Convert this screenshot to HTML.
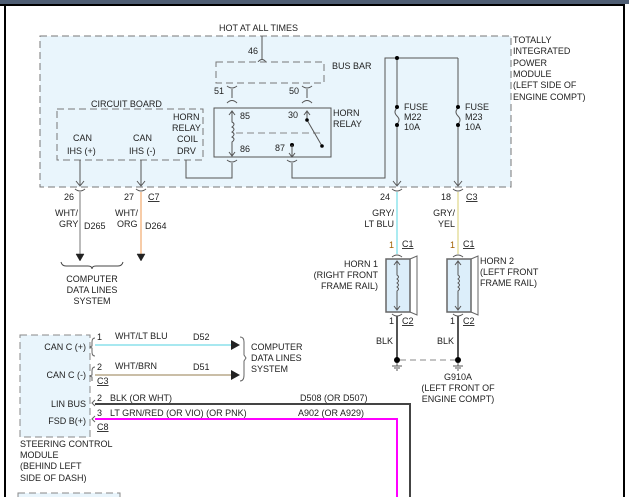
<!DOCTYPE html>
<html><head><style>
body{margin:0;width:629px;height:497px;overflow:hidden;background:#fff}
svg{display:block}
text{font-family:"Liberation Sans",Arial,sans-serif;font-size:9px;fill:#222}
</style></head><body>
<svg width="629" height="497" viewBox="0 0 629 497">
<rect x="0" y="0" width="629" height="4" fill="#4e5d73"/>
<line x1="0" y1="5" x2="625" y2="5" stroke="#000" stroke-width="2"/>
<line x1="5" y1="5" x2="5" y2="497" stroke="#000" stroke-width="2"/>
<line x1="624" y1="5" x2="624" y2="497" stroke="#000" stroke-width="2"/>

<!-- TIPM -->
<rect x="40" y="36" width="471" height="151" fill="#e9f5fc" stroke="#777" stroke-dasharray="7,4"/>
<text x="219" y="31">HOT AT ALL TIMES</text>
<line x1="262" y1="36" x2="262" y2="60" stroke="#555"/>
<path d="M258,62 Q262,57 266,62" fill="none" stroke="#555"/>
<text x="248" y="54">46</text>
<rect x="216" y="62" width="108" height="21" fill="#e9f5fc" stroke="#777" stroke-dasharray="7,4"/>
<text x="332" y="69">BUS BAR</text>
<text x="214" y="94">51</text><text x="289" y="94">50</text>
<g fill="none" stroke="#555">
<path d="M227,86 Q232,90 237,86 M232,89 L232,98 M227,103 Q232,98 237,103"/>
<path d="M302,86 Q307,90 312,86 M307,89 L307,98 M302,103 Q307,98 312,103"/>
</g>
<text x="91" y="107">CIRCUIT BOARD</text>
<rect x="57" y="109" width="146" height="51" fill="#e9f5fc" stroke="#777" stroke-dasharray="7,4"/>
<text x="73" y="141">CAN</text><text x="67" y="154">IHS (+)</text>
<text x="133" y="141">CAN</text><text x="129" y="154">IHS (-)</text>
<text x="173" y="120">HORN</text><text x="172" y="131">RELAY</text><text x="177" y="142">COIL</text><text x="177" y="154">DRV</text>
<rect x="214" y="108" width="117" height="49" fill="#e9f5fc" stroke="#555"/>
<text x="333" y="116">HORN</text><text x="333" y="127">RELAY</text>
<text x="240" y="119">85</text><text x="288" y="118">30</text>
<text x="240" y="152">86</text><text x="275" y="151">87</text>
<line x1="236" y1="133" x2="320" y2="133" stroke="#888" stroke-dasharray="7,4"/>
<path d="M232,112 L232,122 q4,2 0,5 q4,2 0,5 q4,2 0,5 q4,2 0,5 L232,155 M229,115 L232,111 L235,115 M229,152 L232,156 L235,152" fill="none" stroke="#555"/>
<path d="M307,112 L307,120 L322,146 M304,115 L307,111 L310,115" fill="none" stroke="#555"/>
<circle cx="307" cy="120" r="1.8"/><circle cx="322" cy="146" r="1.8"/>
<circle cx="292" cy="145" r="2"/><path d="M292,145 L292,156 M289,153 L292,157 L295,153" stroke="#555" fill="none"/>
<g fill="none" stroke="#555">
<path d="M227,160 Q232,164 237,160"/>
<path d="M287,160 Q292,164 297,160"/>
<path d="M232,163 L232,178 L186,178 L186,160"/>
<path d="M292,163 L292,178 L385,178 L385,58 L458,58"/>
<path d="M397,58 L397,106 M397,126 L397,185 M458,58 L458,106 M458,126 L458,185"/>
<path d="M397,108 q-4,4 0,8 q4,4 0,8 M458,108 q-4,4 0,8 q4,4 0,8"/>
<path d="M393,181 L397,186 L401,181 M454,181 L458,186 L462,181"/>
<path d="M80,160 L80,185 M141,160 L141,185 M76,181 L80,186 L84,181 M137,181 L141,186 L145,181"/>
<path d="M75,189 Q80,193 85,189 M136,189 Q141,193 146,189 M392,189 Q397,193 402,189 M453,189 Q458,193 463,189"/>
</g>
<circle cx="397" cy="58" r="2"/>
<circle cx="397" cy="107" r="2"/><circle cx="397" cy="125" r="2"/>
<circle cx="458" cy="107" r="2"/><circle cx="458" cy="125" r="2"/>
<text x="404" y="110">FUSE</text><text x="404" y="120">M22</text><text x="404" y="130">10A</text>
<text x="465" y="110">FUSE</text><text x="465" y="120">M23</text><text x="465" y="130">10A</text>
<text x="513" y="43">TOTALLY</text><text x="513" y="54">INTEGRATED</text><text x="513" y="66">POWER</text><text x="513" y="77">MODULE</text><text x="513" y="88">(LEFT SIDE OF</text><text x="513" y="100">ENGINE COMPT)</text>

<!-- CAN IHS wires -->
<text x="64" y="200">26</text><text x="124" y="200">27</text><text x="148" y="200" text-decoration="underline">C7</text>
<rect x="79" y="192" width="2" height="63" fill="#bbbbbb"/>
<rect x="140" y="192" width="2" height="63" fill="#f7cca8"/>
<text x="55" y="216">WHT/</text><text x="59" y="227">GRY</text><text x="84" y="229">D265</text>
<text x="115" y="216">WHT/</text><text x="117" y="227">ORG</text><text x="145" y="229">D264</text>
<path d="M76,254 L84,254 L80,261 Z" fill="#222" stroke="#222" stroke-width="0.5"/>
<path d="M137,254 L145,254 L141,261 Z" fill="#222" stroke="#222" stroke-width="0.5"/>
<path d="M61,262 Q62,266 66,266 L88,266 Q92,266 92,269 Q92,266 96,266 L118,266 Q122,266 123,262" fill="none" stroke="#444" stroke-width="1"/>
<text x="92" y="282" text-anchor="middle">COMPUTER</text><text x="92" y="293" text-anchor="middle">DATA LINES</text><text x="92" y="304" text-anchor="middle">SYSTEM</text>

<!-- fuse wires -->
<text x="380" y="200">24</text><text x="441" y="200">18</text><text x="466" y="200" text-decoration="underline">C3</text>
<line x1="397" y1="192" x2="397" y2="254" stroke="#8fe4ec" stroke-width="1.5"/>
<line x1="458" y1="192" x2="458" y2="254" stroke="#e6dfa0" stroke-width="1.5"/>
<text x="394" y="216" text-anchor="end">GRY/</text><text x="394" y="227" text-anchor="end">LT BLU</text>
<text x="455" y="216" text-anchor="end">GRY/</text><text x="455" y="227" text-anchor="end">YEL</text>
<text x="389" y="248" style="fill:#a06000">1</text><text x="402" y="247" text-decoration="underline">C1</text>
<text x="450" y="248" style="fill:#a06000">1</text><text x="463" y="247" text-decoration="underline">C1</text>
<!-- horns -->
<g fill="none" stroke="#555">
<path d="M392,257 Q397,253 402,257 M453,257 Q458,253 463,257"/>
<rect x="386" y="259" width="24" height="53" fill="#dceefa" stroke="#666" stroke-width="1.5"/>
<path d="M410,259 L417,256 L417,315 L410,312" stroke="#666"/>
<rect x="447" y="259" width="24" height="53" fill="#dceefa" stroke="#666" stroke-width="1.5"/>
<path d="M471,259 L478,256 L478,315 L471,312" stroke="#666"/>
<path d="M397,262 L397,275 q3,2 0,4 q3,2 0,4 q3,2 0,4 q3,2 0,4 L397,309 M394,265 L397,261 L400,265 M394,306 L397,310 L400,306"/>
<path d="M458,262 L458,275 q3,2 0,4 q3,2 0,4 q3,2 0,4 q3,2 0,4 L458,309 M455,265 L458,261 L461,265 M455,306 L458,310 L461,306"/>
<path d="M392,314 Q397,318 402,314 M453,314 Q458,318 463,314"/>
</g>
<text x="378" y="267" text-anchor="end">HORN 1</text><text x="378" y="278" text-anchor="end">(RIGHT FRONT</text><text x="378" y="289" text-anchor="end">FRAME RAIL)</text>
<text x="480" y="264">HORN 2</text><text x="480" y="275">(LEFT FRONT</text><text x="480" y="286">FRAME RAIL)</text>
<text x="389" y="324">1</text><text x="402" y="324" text-decoration="underline">C2</text>
<text x="450" y="324">1</text><text x="463" y="324" text-decoration="underline">C2</text>
<line x1="397" y1="316" x2="397" y2="359" stroke="#555" stroke-width="2"/>
<line x1="458" y1="316" x2="458" y2="359" stroke="#555" stroke-width="2"/>
<text x="376" y="344">BLK</text><text x="437" y="344">BLK</text>
<line x1="400" y1="360" x2="455" y2="360" stroke="#888" stroke-dasharray="6,4"/>
<circle cx="397" cy="360" r="3"/><circle cx="458" cy="360" r="3"/>
<path d="M397,363 L397,366 M392,366 L402,366 M394,368 L400,368 M396,370 L398,370 M458,363 L458,366 M453,366 L463,366 M455,368 L461,368 M457,370 L459,370" stroke="#555"/>
<text x="458" y="380" text-anchor="middle">G910A</text><text x="458" y="391" text-anchor="middle">(LEFT FRONT OF</text><text x="458" y="402" text-anchor="middle">ENGINE COMPT)</text>

<!-- steering module -->
<rect x="20" y="335" width="70" height="102" fill="#e9f5fc" stroke="#888" stroke-dasharray="7,4"/>
<text x="86" y="350" text-anchor="end">CAN C (+)</text>
<text x="86" y="378" text-anchor="end">CAN C (-)</text>
<text x="86" y="407" text-anchor="end">LIN BUS</text>
<text x="86" y="424" text-anchor="end">FSD B(+)</text>
<path d="M95,338 q-3,0 -3,4 l0,4 l-2,1 l2,1 l0,4 q0,4 3,4 M95,367 q-3,0 -3,4 l0,4 l-2,1 l2,1 l0,4 M95,400 l-3,3 l3,3 M95,416 l-3,3 l3,3" fill="none" stroke="#666"/>
<line x1="95" y1="345" x2="233" y2="345" stroke="#a8e8f0" stroke-width="2"/>
<line x1="95" y1="375" x2="233" y2="375" stroke="#b8a88a" stroke-width="1.5"/>
<path d="M231,340 L240,345 L231,350 Z M231,370 L240,375 L231,380 Z" fill="#222"/>
<path d="M240,337 Q244,337 244,342 L244,355 L246,358 L244,361 L244,375 Q244,381 240,381" fill="none" stroke="#666"/>
<text x="251" y="350">COMPUTER</text><text x="251" y="361">DATA LINES</text><text x="251" y="372">SYSTEM</text>
<text x="97" y="340">1</text><text x="115" y="339">WHT/LT BLU</text><text x="193" y="340">D52</text>
<text x="97" y="370">2</text><text x="115" y="369">WHT/BRN</text><text x="193" y="370">D51</text>
<text x="97" y="384" text-decoration="underline">C3</text>
<path d="M95,404 L410,404 L410,497" fill="none" stroke="#444" stroke-width="2"/>
<path d="M95,419 L397,419 L397,497" fill="none" stroke="#ff00ff" stroke-width="2"/>
<text x="97" y="401">2</text><text x="110" y="401">BLK (OR WHT)</text><text x="300" y="401">D508 (OR D507)</text>
<text x="97" y="416">3</text><text x="110" y="416">LT GRN/RED (OR VIO) (OR PNK)</text><text x="298" y="416">A902 (OR A929)</text>
<text x="97" y="430" text-decoration="underline">C8</text>
<text x="20" y="447">STEERING CONTROL</text><text x="20" y="458">MODULE</text><text x="20" y="469">(BEHIND LEFT</text><text x="20" y="481">SIDE OF DASH)</text>
<rect x="18" y="493" width="102" height="10" fill="#e9f5fc" stroke="#888" stroke-dasharray="7,4"/>
</svg>
</body></html>
